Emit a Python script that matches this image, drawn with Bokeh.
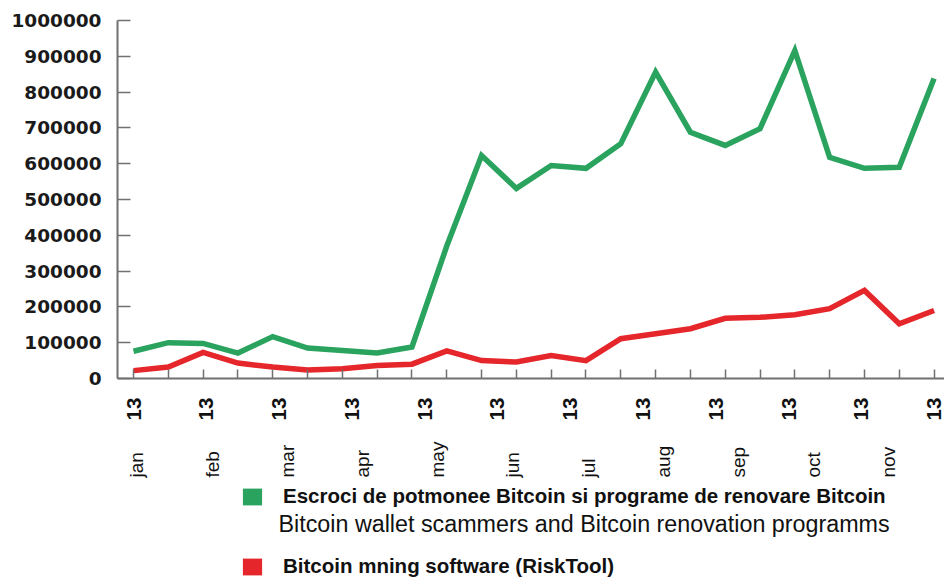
import math
import numpy as np
from bokeh.plotting import figure
from bokeh.layouts import column
from bokeh.models import (Range1d, FixedTicker, Legend, LegendItem, Label,
                          BasicTickFormatter)
from bokeh.core.properties import value
from bokeh.embed import file_html
from bokeh.resources import INLINE

# ---- data ----
months = ["jan", "feb", "mar", "apr", "may", "jun", "jul", "aug", "sep", "oct", "nov", ""]
year_label = "13"
scammers = [76000, 100000, 98000, 71000, 117000, 85000, 78000, 71000, 88000,
            370000, 623000, 531000, 595000, 587000, 656000, 856000, 688000,
            651000, 698000, 916000, 618000, 587000, 590000, 838000]
mining = [22000, 32000, 73000, 43000, 32000, 24000, 27000, 36000, 40000,
          77000, 50000, 46000, 64000, 50000, 111000, 125000, 139000, 168000,
          171000, 178000, 195000, 246000, 153000, 190000]
y_ticks = list(range(0, 1000001, 100000))
legend_scammers = "Escroci de potmonee Bitcoin si programe de renovare Bitcoin"
legend_scammers_en = "Bitcoin wallet scammers and Bitcoin renovation programms"
legend_mining = "Bitcoin mning software (RiskTool)"

GREEN = "#29a35d"
RED = "#e5262a"
AXIS = "#707070"
INK = "#111111"

W = 944
LEFT = 117
n = len(scammers)
x = np.arange(n)
xr = Range1d(-0.46, n - 1 + 0.3)

# ---------------- chart ----------------
p = figure(width=W, height=390, output_backend="svg", toolbar_location=None,
           x_range=xr, y_range=Range1d(0, 1000000),
           min_border_left=LEFT, min_border_right=0, min_border_top=20,
           min_border_bottom=12)
p.xgrid.visible = False
p.ygrid.visible = False
p.outline_line_color = None

xa = p.xaxis[0]
xa.ticker = FixedTicker(ticks=[], minor_ticks=list(range(n)))
xa.minor_tick_in = 9
xa.minor_tick_out = 0
xa.minor_tick_line_color = AXIS
xa.minor_tick_line_width = 1.5
xa.major_tick_line_color = None
xa.axis_line_color = AXIS
xa.axis_line_width = 2

ya = p.yaxis[0]
ya.ticker = FixedTicker(ticks=y_ticks)
ya.formatter = BasicTickFormatter(use_scientific=False)
ya.major_label_text_font = "DejaVu Sans"
ya.major_label_text_font_style = "bold"
ya.major_label_text_font_size = "18.5px"
ya.major_label_text_color = "#1a1a1a"
ya.major_tick_in = 13
ya.major_tick_out = 0
ya.major_label_standoff = 16
ya.minor_tick_line_color = None
ya.axis_line_color = AXIS
ya.axis_line_width = 2
ya.major_tick_line_color = AXIS
ya.major_tick_line_width = 1.5

p.line(x, mining, line_color=RED, line_width=5.5, line_join="miter")
p.line(x, scammers, line_color=GREEN, line_width=5.5, line_join="miter")

# ---------------- labels + legend strip (shares the x scale) ----------------
H2 = 188
q = figure(width=W, height=H2, output_backend="svg", toolbar_location=None,
           x_range=xr, y_range=Range1d(0, H2),
           x_axis_location=None, y_axis_location=None,
           min_border_left=LEFT, min_border_right=0, min_border_top=0,
           min_border_bottom=0)
q.xgrid.visible = False
q.ygrid.visible = False
q.outline_line_color = None

n_lab = len(months)
year_x = [k * (n - 1) / (n_lab - 1) for k in range(n_lab)]
month_x = [0.1 + k * 2.16 for k in range(n_lab)]
q.text(x=year_x, y=[H2 - 30] * n_lab, text=[year_label] * n_lab, angle=math.pi / 2,
       text_align="left", text_baseline="middle", text_font=value("Liberation Sans"),
       text_font_style="bold", text_font_size="20.5px", text_color=INK)
q.text(x=month_x, y=[H2 - 87] * n_lab, text=months, angle=math.pi / 2,
       text_align="left", text_baseline="middle", text_font=value("Liberation Sans"),
       text_font_size="19px", text_color=INK)

# legend swatches: renderers with no visible data (only their legend glyph shows)
gbox = q.quad(left=[np.nan], right=[np.nan], top=[np.nan], bottom=[np.nan],
              fill_color=GREEN, line_color=None)
rbox = q.quad(left=[np.nan], right=[np.nan], top=[np.nan], bottom=[np.nan],
              fill_color=RED, line_color=None)
common = dict(orientation="vertical", glyph_width=24, glyph_height=21, label_height=18,
              padding=0, margin=0, border_line_color=None, background_fill_alpha=0,
              label_text_font="Liberation Sans", label_text_font_style="bold",
              label_text_font_size="20.5px", label_text_color=INK, label_standoff=19)
leg1 = Legend(items=[LegendItem(label=legend_scammers, renderers=[gbox])],
              location=(123, 70), **common)
leg2 = Legend(items=[LegendItem(label=legend_mining, renderers=[rbox])],
              location=(123, 0), **common)
q.add_layout(leg1)
q.add_layout(leg2)
q.add_layout(Label(x=161, y=55, x_units="screen", y_units="screen",
                   text=legend_scammers_en, text_font="Liberation Sans",
                   text_font_size="23.3px", text_baseline="middle", text_color=INK))

layout = column(p, q, spacing=0)
open("out.html", "w").write(file_html(layout, INLINE))
